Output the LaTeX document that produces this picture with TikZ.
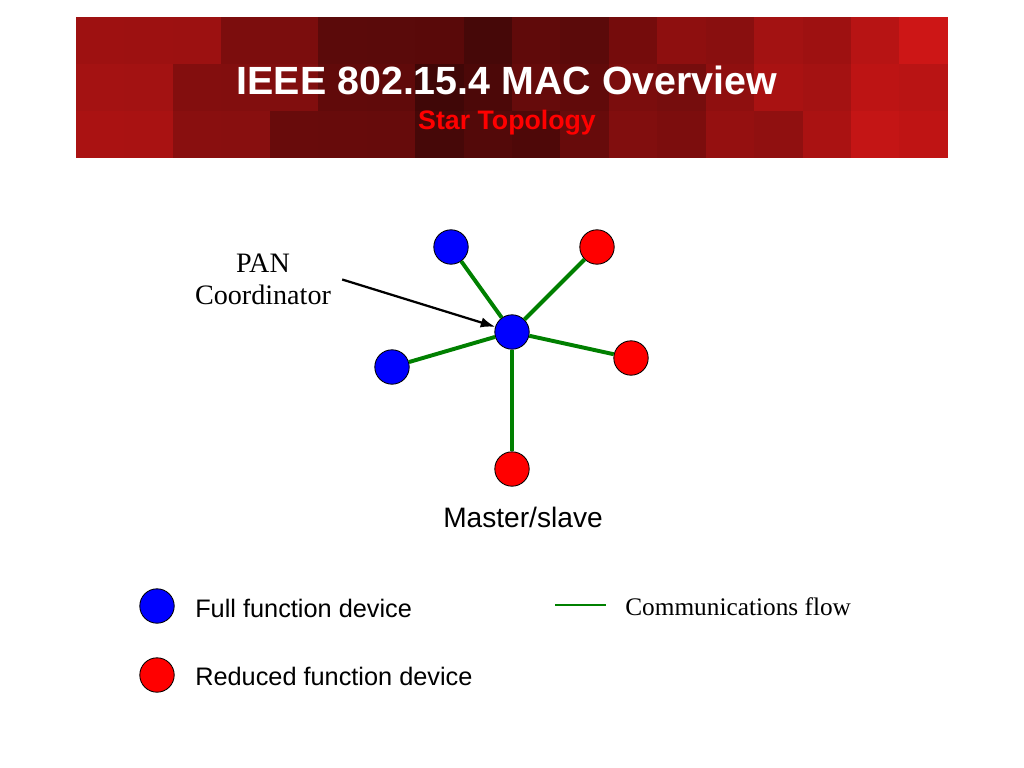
\documentclass[tikz,border=0pt]{standalone}
\usepackage{fontspec}
\setmainfont{Liberation Serif}
\newfontfamily\arialfont{Liberation Sans}
\usetikzlibrary{arrows.meta,positioning}
\definecolor{hdrred}{RGB}{205,22,22}
\definecolor{linkgreen}{RGB}{0,128,0}
\definecolor{ffdblue}{RGB}{0,0,255}
\definecolor{rfdred}{RGB}{255,0,0}

\begin{document}
\begin{tikzpicture}[x=0.025cm, y=-0.025cm,
    ffd/.style={circle, draw=black, line width=0.6pt, fill=ffdblue, minimum size=0.86cm, inner sep=0pt},
    rfd/.style={circle, draw=black, line width=0.6pt, fill=rfdred, minimum size=0.86cm, inner sep=0pt},
    link/.style={linkgreen, line width=2.8pt},
    sans/.style={font=\arialfont\fontsize{#1}{#1}\selectfont},
    sansbold/.style={font=\arialfont\bfseries\fontsize{#1}{#1}\selectfont},
    serif/.style={font=\fontsize{#1}{#1}\selectfont}]
        \useasboundingbox (0,0) rectangle (1024,768);
        % Kepala (mosaic)
        \foreach \i in {0,...,17} {
          \foreach \j in {0,1,2} {
            \pgfmathsetmacro{\shade}{min(100, 34+62*abs(\i-7.5)/9.5 + mod(\i*7+\j*11,5)*3-6)}
            \fill[hdrred!\shade!black] (76+\i*48.44, 17+\j*47) rectangle ++(48.9,47.5);
          }
        }
        \node[sansbold=28, text=white, anchor=base] (title) at (507,95) {IEEE 802.15.4 MAC Overview};
        \node[sansbold=19, text=rfdred, anchor=base] (subtitle) at (507,130) {Star Topology};
        % Topologi bintang
        \node[ffd] (coord) at (512,332) {};
        \node[ffd] (ffdnw) at (451,247) {};
        \node[ffd] (ffdw) at (392,367) {};
        \node[rfd] (rfdne) at (597,247) {};
        \node[rfd] (rfde) at (631,358) {};
        \node[rfd] (rfds) at (512,469) {};
        \draw[link] (coord) -- (ffdnw);
        \draw[link] (coord) -- (ffdw);
        \draw[link] (coord) -- (rfdne);
        \draw[link] (coord) -- (rfde);
        \draw[link] (coord) -- (rfds);
        \node[serif=20, align=center, inner xsep=7.8pt] (pan) at (263,279.5) {PAN\\[3pt]Coordinator};
        \draw[-{Latex[length=3.6mm, width=2.6mm]}, line width=1.6pt] (pan.east) -- (coord);
        \node[sans=20, anchor=base] (mslabel) at (523,527) {Master/slave};
        % Keterangan
        \node[ffd] (legffd) at (157,606) {};
        \node[rfd] (legrfd) at (157,675) {};
        \node[sans=18, anchor=base west, inner sep=0pt] (ffdtext) at (195,617) {Full function device};
        \node[sans=18, anchor=base west, inner sep=0pt] (rfdtext) at (195,685) {Reduced function device};
        \coordinate (flowa) at (555,605);
        \coordinate (flowb) at (606,605);
        \draw[linkgreen, line width=1.4pt] (flowa) -- (flowb);
        \node[serif=18, anchor=base west, inner sep=0pt] (flowtext) at (625,615) {Communications flow};
      \end{tikzpicture}
\end{document}
